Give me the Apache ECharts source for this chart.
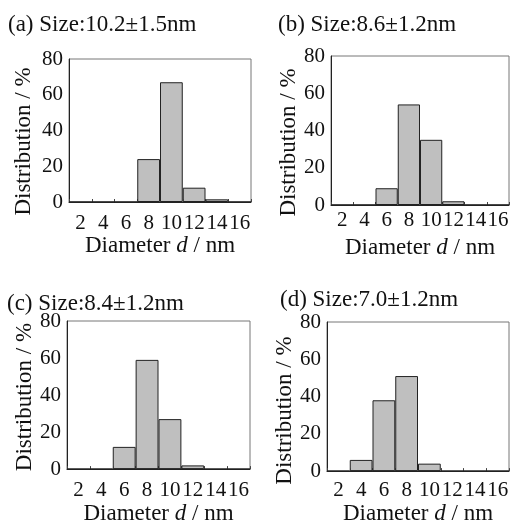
<!DOCTYPE html>
<html>
<head>
<meta charset="utf-8">
<script src="https://cdn.jsdelivr.net/npm/echarts@6/dist/echarts.min.js"></script>
<style>
  html, body { margin: 0; padding: 0; background: #fff; }
  #main { width: 517px; height: 526px; }
</style>
</head>
<body>
<div id="main"></div>
<script>
// diameter bins (nm) and size distribution (%) of the four samples
var diameters = ['2', '4', '6', '8', '10', '12', '14', '16'];
var distA = [0, 0, 0, 24, 67, 8, 1.5, 0];
var distB = [0, 0, 9, 54, 35, 2, 0, 0];
var distC = [0, 0, 12, 59, 27, 2, 0, 0];
var distD = [0, 6, 38, 51, 4, 0, 0, 0];
var panelTitles = ['(a) Size:10.2±1.5nm', '(b) Size:8.6±1.2nm', '(c) Size:8.4±1.2nm', '(d) Size:7.0±1.2nm'];
var yTicks = [0, 20, 40, 60, 80];

var font = 'Liberation Serif';
var myChart = echarts.init(document.getElementById('main'));

var grids = [
    {left: 69, top: 59, width: 182, height: 143},
    {left: 331, top: 56, width: 178, height: 149},
    {left: 67, top: 321, width: 183, height: 150},
    {left: 327, top: 322, width: 182, height: 151}
];
var titlePos = [
    {left: 3, top: 8},
    {left: 273, top: 8},
    {left: 2, top: 287},
    {left: 275, top: 283}
];
// per-panel offsets, the scanned panels are not quite aligned
var yNameGap = [34, 31, 29, 29];
var yNameShift = [22, 24, 4, 28];
var xNameGap = [31, 31, 23, 20];
var xLabelMargin = [11, 5, 11, 9];
var allData = [distA, distB, distC, distD];

var xAxes = [], yAxes = [], series = [], titles = [];
grids.forEach(function (g, i) {
    g.show = true;
    g.borderColor = '#777';
    g.borderWidth = 1;
    titles.push({
        text: panelTitles[i],
        left: titlePos[i].left,
        top: titlePos[i].top,
        textStyle: {fontFamily: font, fontSize: 23, fontWeight: 'normal', color: '#111'}
    });
    xAxes.push({
        type: 'category',
        gridIndex: i,
        data: diameters,
        boundaryGap: true,
        name: 'Diameter {i|d} / nm',
        nameLocation: 'middle',
        nameGap: xNameGap[i],
        nameTextStyle: {
            fontFamily: font, fontSize: 23, color: '#111',
            rich: {i: {fontFamily: font, fontSize: 23, fontStyle: 'italic', color: '#111'}}
        },
        axisLine: {lineStyle: {color: '#222', width: 1}},
        axisTick: {show: true, inside: true, length: 3, lineStyle: {color: '#444'}},
        axisLabel: {fontFamily: font, fontSize: 21, color: '#111', margin: xLabelMargin[i], interval: 0},
        splitLine: {show: false}
    });
    yAxes.push({
        type: 'value',
        gridIndex: i,
        min: yTicks[0],
        max: yTicks[yTicks.length - 1],
        interval: 20,
        name: 'Distribution / %',
        nameLocation: 'middle',
        nameGap: yNameGap[i],
        nameTextStyle: {fontFamily: font, fontSize: 23, color: '#111', padding: [0, yNameShift[i], 0, 0]},
        axisLine: {show: true, lineStyle: {color: '#222', width: 1}},
        axisTick: {show: false},
        axisLabel: {fontFamily: font, fontSize: 21, color: '#111', margin: 6, padding: [8, 0, 0, 0]},
        splitLine: {show: false}
    });
    series.push({
        type: 'bar',
        xAxisIndex: i,
        yAxisIndex: i,
        data: allData[i],
        barCategoryGap: '0%',
        itemStyle: {color: '#bfbfbf', borderColor: '#222', borderWidth: 1}
    });
});

myChart.setOption({
    backgroundColor: '#fff',
    animation: false,
    title: titles,
    grid: grids,
    xAxis: xAxes,
    yAxis: yAxes,
    series: series
});
</script>
</body>
</html>
